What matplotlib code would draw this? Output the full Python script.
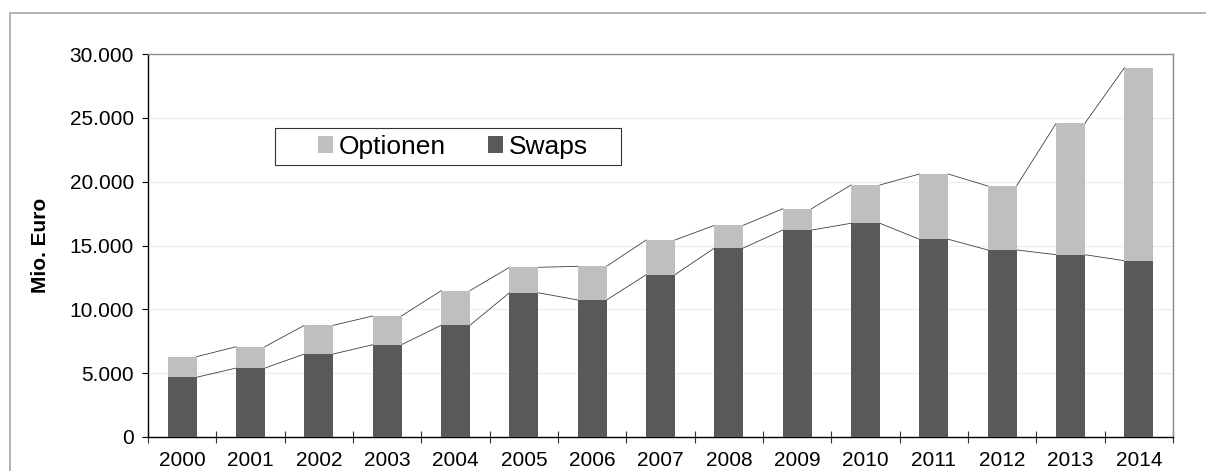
import numpy as np
import matplotlib
matplotlib.use('Agg')
import matplotlib.pyplot as plt
from matplotlib.patches import Rectangle

plt.rcParams['font.family'] = ['Liberation Sans', 'DejaVu Sans']

jahre = ['2000', '2001', '2002', '2003', '2004', '2005', '2006', '2007',
         '2008', '2009', '2010', '2011', '2012', '2013', '2014']
swaps = [4680, 5400, 6500, 7230, 8750, 11300, 10730, 12710,
         14800, 16210, 16740, 15490, 14650, 14280, 13810]
gesamt = [6290, 7070, 8750, 9480, 11460, 13290, 13370, 15430,
          16580, 17880, 19740, 20600, 19660, 24570, 28930]
optionen = [g - s for g, s in zip(gesamt, swaps)]

fig = plt.figure(figsize=(12.06, 4.71), dpi=100)
# aeusserer Rahmen
fig.patches.append(Rectangle((10/1206, -0.1), 1.2, 1.1 - 13/471,
                             transform=fig.transFigure, fill=False,
                             edgecolor='#a6a6a6', linewidth=1.2))
ax = fig.add_axes([148/1206, 34/471, 1025/1206, 383/471])

x = np.arange(len(jahre))
b = 0.42
ax.bar(x, swaps, width=b, color='#595959', label='Swaps', zorder=3)
ax.bar(x, optionen, width=b, bottom=swaps, color='#bfbfbf', label='Optionen', zorder=3)

# Reihenlinien zwischen den Saeulen
for i in range(len(x) - 1):
    ax.plot([x[i] + b/2, x[i+1] - b/2], [swaps[i], swaps[i+1]],
            color='#404040', lw=0.6, zorder=2)
    ax.plot([x[i] + b/2, x[i+1] - b/2], [gesamt[i], gesamt[i+1]],
            color='#404040', lw=0.6, zorder=2)

ax.set_xlim(-0.5, len(x) - 0.5)
ax.set_ylim(0, 30000)
ax.set_yticks(np.arange(0, 30001, 5000))
ax.set_yticklabels(['0' if v == 0 else f'{v:,}'.replace(',', '.') for v in range(0, 30001, 5000)],
                   fontsize=15)
ax.set_xticks(x)
ax.set_xticklabels(jahre, fontsize=15)
ax.tick_params(axis='x', length=0, pad=10)
ax.set_xticks(np.arange(-0.5, len(x)), minor=True)
ax.tick_params(axis='x', which='minor', direction='inout', length=8, width=0.8, color='#333333')
ax.tick_params(axis='y', direction='out', length=4, width=0.8, pad=6)
ax.yaxis.grid(True, color='#ececec', lw=0.8, zorder=0)
ax.set_axisbelow(True)

for s in ['top', 'right']:
    ax.spines[s].set_color('#8c8c8c')
    ax.spines[s].set_linewidth(1.0)
ax.spines['left'].set_linewidth(1.0)
ax.spines['bottom'].set_linewidth(1.0)

ax.set_ylabel('Mio. Euro', fontsize=15, fontweight='bold', labelpad=14)

# Legendenrahmen
ax.add_patch(Rectangle((0.124, 0.710), 0.337, 0.097, transform=ax.transAxes,
                       facecolor='white', edgecolor='#333333', lw=0.8, zorder=5))
h, l = ax.get_legend_handles_labels()
leg = ax.legend(h[::-1], l[::-1], ncol=2, loc='center left', bbox_to_anchor=(0.1659, 0.758),
                fontsize=19, frameon=False, borderpad=0, borderaxespad=0,
                handlelength=0.58, handleheight=0.58, handletextpad=0.2,
                columnspacing=1.6)
leg.set_zorder(6)

fig.savefig('out.png', dpi=100)
